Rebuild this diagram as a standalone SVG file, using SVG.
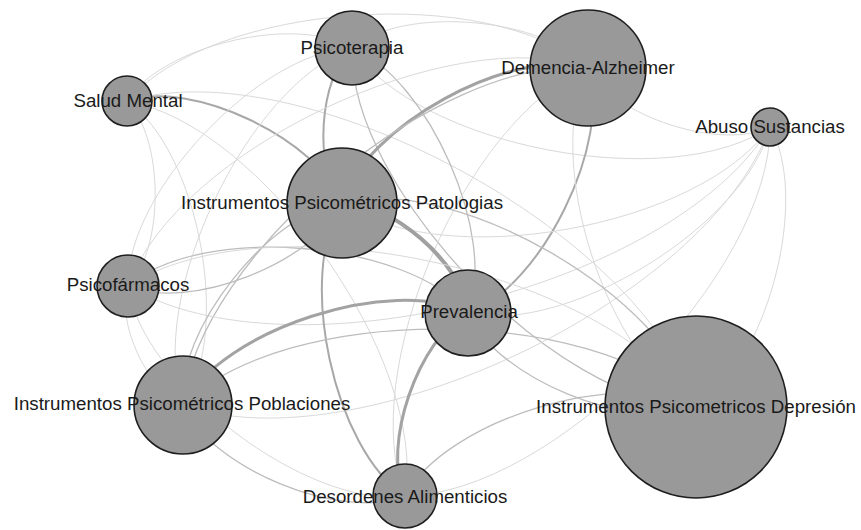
<svg xmlns="http://www.w3.org/2000/svg" width="861" height="530" viewBox="0 0 861 530">
<style>
.e{fill:none;stroke-linecap:round}
.l{stroke:#d9d9d9;stroke-width:1}
.m{stroke:#bdbdbd;stroke-width:1.3}
.d{stroke:#a8a8a8;stroke-width:2}
.t{stroke:#a3a3a3;stroke-width:3}
.T{stroke:#a0a0a0;stroke-width:4}
.n circle{fill:#999999;stroke:#1e1e1e;stroke-width:1.6}
.n text{font-family:"Liberation Sans",Arial,sans-serif;font-size:18.7px;fill:#1a1a1a;text-anchor:middle}
</style>
<rect width="861" height="530" fill="#ffffff"/>
<g id="edges">
<path class="e l" d="M127,101 C161.4,45.4 296.4,13.6 352,48"/>
<path class="e l" d="M127,101 C212.6,2.2 489.2,-17.6 588,68"/>
<path class="e d" d="M127,101 C190.4,78.4 319.4,139.6 342,203"/>
<path class="e l" d="M127,101 C164.2,137.8 164.8,248.8 128,286"/>
<path class="e l" d="M127,101 C199,150.6 232.6,333 183,405"/>
<path class="e l" d="M127,101 C302,48.4 643.4,232 696,407"/>
<path class="e l" d="M127,101 C261.6,124.4 428.4,361.4 405,496"/>
<path class="e d" d="M342,203 C313,170 319,77 352,48"/>
<path class="e l" d="M352,48 C403.2,4.8 544.8,16.8 588,68"/>
<path class="e l" d="M770,127 C670.6,194.8 419.8,147.4 352,48"/>
<path class="e l" d="M128,286 C125.2,193.6 259.6,50.8 352,48"/>
<path class="e l" d="M183,405 C145.4,299.8 246.8,85.6 352,48"/>
<path class="e m" d="M352,48 C428.2,77.8 497.8,236.8 468,313"/>
<path class="e m" d="M696,407 C555.4,404 349,188.6 352,48"/>
<path class="e l" d="M770,127 C721.8,151.6 612.6,116.2 588,68"/>
<path class="e t" d="M342,203 C364.2,126.8 511.8,45.8 588,68"/>
<path class="e d" d="M588,68 C613,141 541,288 468,313"/>
<path class="e l" d="M128,286 C176.4,150.4 452.4,19.6 588,68"/>
<path class="e m" d="M183,405 C196.6,256.6 439.6,54.4 588,68"/>
<path class="e l" d="M696,407 C606.6,360.8 541.8,157.4 588,68"/>
<path class="e l" d="M405,496 C356,373.8 465.8,117 588,68"/>
<path class="e l" d="M770,127 C699.6,227.8 442.8,273.4 342,203"/>
<path class="e l" d="M770,127 C673.4,287.2 288.2,382.6 128,286"/>
<path class="e l" d="M770,127 C746.8,224.6 565.6,336.2 468,313"/>
<path class="e l" d="M770,127 C708.2,300 356,466.8 183,405"/>
<path class="e l" d="M770,127 C811.2,197.8 766.8,365.8 696,407"/>
<path class="e l" d="M770,127 C770.8,273.8 551.8,495.2 405,496"/>
<path class="e m" d="M342,203 C315.8,262.4 187.4,312.2 128,286"/>
<path class="e T" d="M342,203 C389.2,199.8 464.8,265.8 468,313"/>
<path class="e m" d="M183,405 C174.4,332.8 269.8,211.6 342,203"/>
<path class="e m" d="M342,203 C453.6,173 666,295.4 696,407"/>
<path class="e d" d="M405,496 C333.8,450 296,274.2 342,203"/>
<path class="e m" d="M128,286 C201.4,223.4 405.4,239.6 468,313"/>
<path class="e l" d="M183,405 C148.2,392.2 115.2,320.8 128,286"/>
<path class="e l" d="M128,286 C265.8,196.6 606.6,269.2 696,407"/>
<path class="e l" d="M405,496 C307.6,509.4 141.4,383.4 128,286"/>
<path class="e t" d="M183,405 C221.6,329.6 392.6,274.4 468,313"/>
<path class="e m" d="M696,407 C631.6,433.8 494.8,377.4 468,313"/>
<path class="e t" d="M405,496 C381,446.8 418.8,337 468,313"/>
<path class="e m" d="M183,405 C286,302.8 593.8,304 696,407"/>
<path class="e m" d="M405,496 C342.4,522.2 209.2,467.6 183,405"/>
<path class="e m" d="M405,496 C445.4,420 620,366.6 696,407"/>
</g>
<g id="node-psicoterapia" class="n"><circle cx="352" cy="48" r="37"/><text x="352" y="54">Psicoterapia</text></g>
<g id="node-demencia" class="n"><circle cx="588" cy="68" r="58"/><text x="588" y="74">Demencia-Alzheimer</text></g>
<g id="node-salud" class="n"><circle cx="127" cy="101" r="25"/><text x="128" y="107">Salud Mental</text></g>
<g id="node-abuso" class="n"><circle cx="770" cy="127" r="19"/><text x="770" y="133">Abuso Sustancias</text></g>
<g id="node-patologias" class="n"><circle cx="342" cy="203" r="55"/><text x="342" y="209">Instrumentos Psicométricos Patologias</text></g>
<g id="node-psicofarmacos" class="n"><circle cx="128" cy="286" r="31"/><text x="128" y="291">Psicofármacos</text></g>
<g id="node-prevalencia" class="n"><circle cx="468" cy="313" r="43"/><text x="469" y="318">Prevalencia</text></g>
<g id="node-poblaciones" class="n"><circle cx="183" cy="405" r="49"/><text x="182" y="410">Instrumentos Psicométricos Poblaciones</text></g>
<g id="node-depresion" class="n"><circle cx="696" cy="407" r="91"/><text x="696" y="413">Instrumentos Psicometricos Depresión</text></g>
<g id="node-desordenes" class="n"><circle cx="405" cy="496" r="32"/><text x="405" y="503">Desordenes Alimenticios</text></g>
</svg>
